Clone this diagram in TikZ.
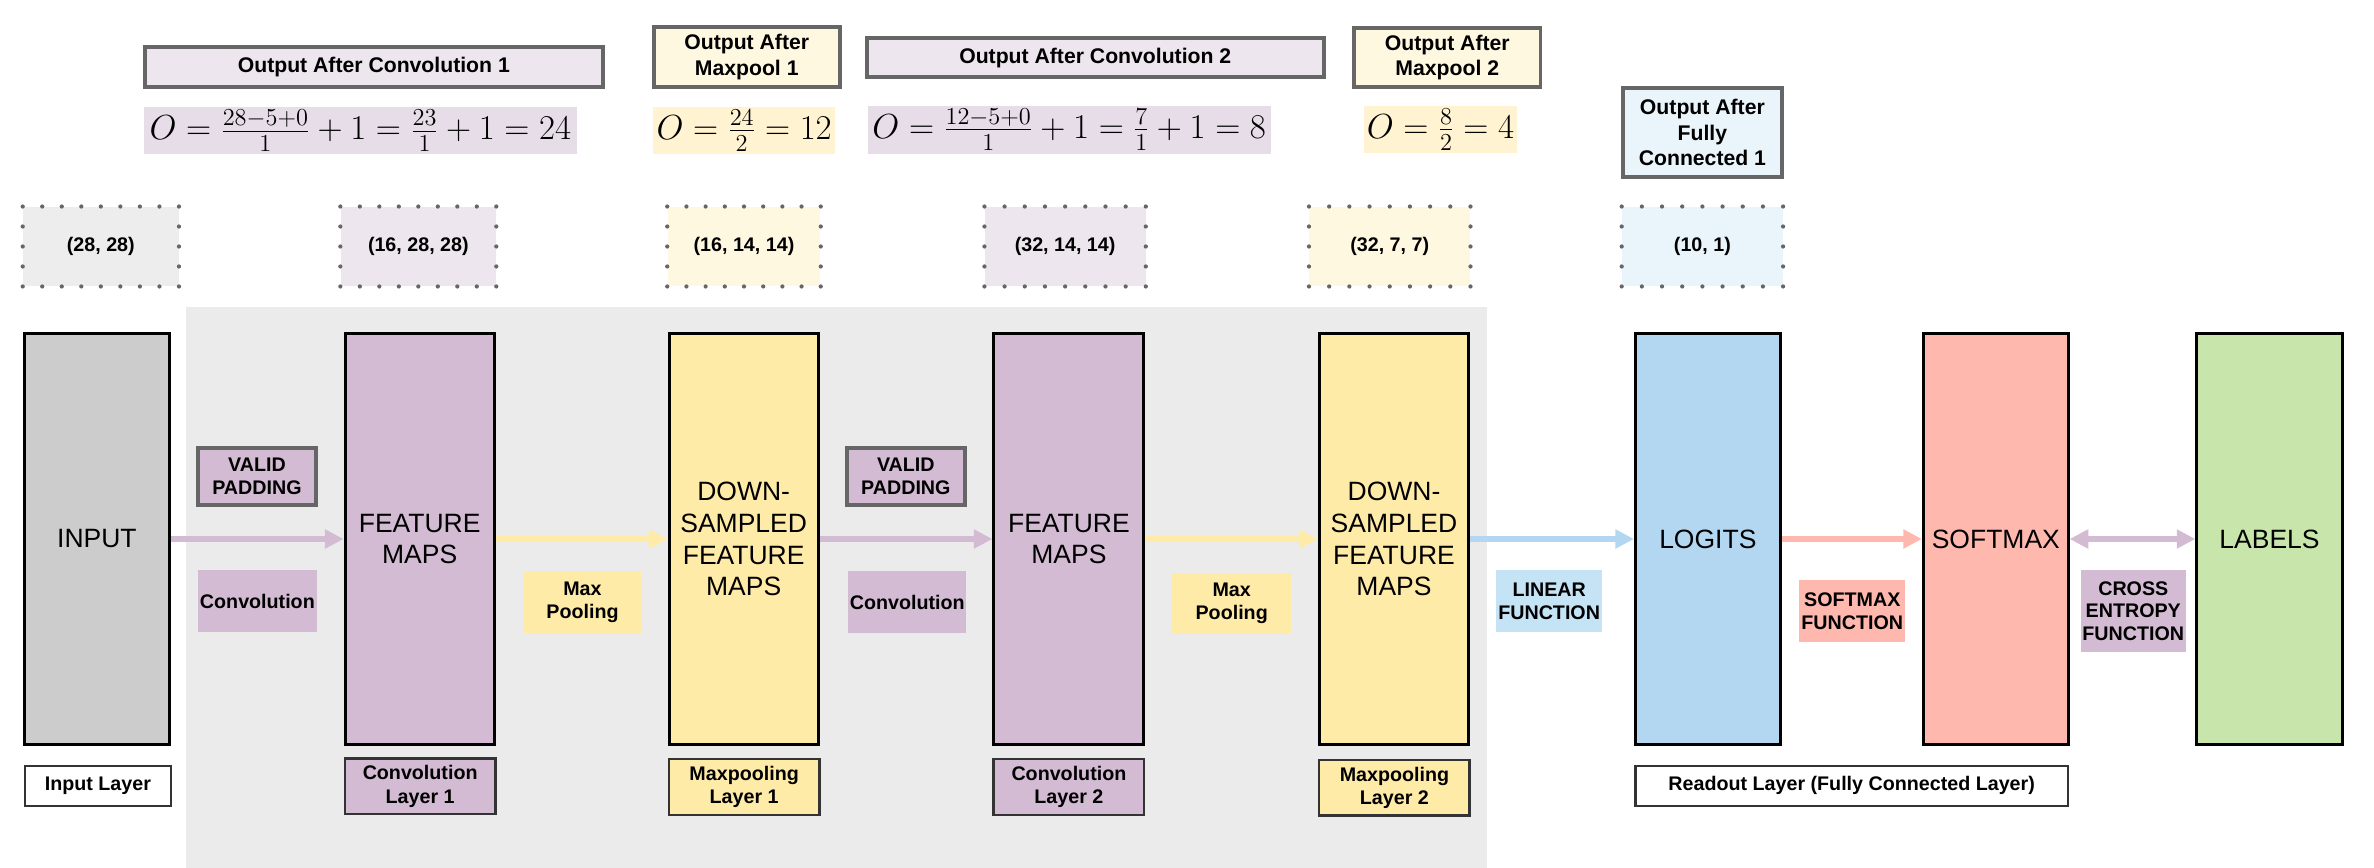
\RequirePackage{fix-cm}
\documentclass[tikz,border=0pt]{standalone}
\usepackage{fontspec}
\setmainfont{Liberation Sans}
\usetikzlibrary{arrows.meta,calc}
\definecolor{cgray}{HTML}{CCCCCC}
\definecolor{cpurple}{HTML}{D3BCD3}
\definecolor{cyellow}{HTML}{FFEBA8}
\definecolor{cblue}{HTML}{B3D7F0}
\definecolor{csalmon}{HTML}{FFB8AE}
\definecolor{cgreen}{HTML}{C8E6AB}
\definecolor{clinblue}{HTML}{C4E3F5}
\definecolor{cbg}{HTML}{EBEBEB}
\definecolor{cdk}{HTML}{333333}
\definecolor{cmid}{HTML}{666666}
\definecolor{hpurple}{HTML}{EEE6EE}
\definecolor{hyellow}{HTML}{FFF8E1}
\definecolor{hblue}{HTML}{EAF4FB}
\definecolor{hgray}{HTML}{EDEDED}
\definecolor{epurple}{HTML}{E6DDE8}
\definecolor{eyellow}{HTML}{FFF3D2}
\newcommand\dotframe[1]{%
  \foreach \i in {0,...,8}{%
    \fill[cmid] ($(#1.north west)!\i/8!(#1.north east)$) circle (1.4pt);
    \fill[cmid] ($(#1.south west)!\i/8!(#1.south east)$) circle (1.4pt);}
  \foreach \j in {1,...,3}{%
    \fill[cmid] ($(#1.north west)!\j/4!(#1.south west)$) circle (1.4pt);
    \fill[cmid] ($(#1.north east)!\j/4!(#1.south east)$) circle (1.4pt);}
}
\tikzset{
  mainbox/.style={draw=black, line width=2pt, minimum height=272pt, inner sep=0pt,
    font=\fontsize{17.5}{21}\selectfont, align=center},
  layerbox/.style={draw=cdk, line width=1.6pt, inner sep=0pt,
    font=\bfseries\fontsize{13}{15.5}\selectfont, align=center},
  hdrbox/.style={draw=cmid, line width=2.6pt, inner sep=0pt,
    font=\bfseries\fontsize{14}{17}\selectfont, align=center},
  eqbox/.style={inner sep=0pt, font=\fontsize{23}{27}\selectfont},
  dimbox/.style={inner sep=0pt, minimum height=52.4pt, font=\bfseries\fontsize{13}{15}\selectfont},
  oplabel/.style={inner sep=0pt, font=\bfseries\fontsize{13}{15}\selectfont, align=center},
  padbox/.style={oplabel, draw=cmid, line width=2.5pt},
  flow/.style={line width=4.6pt, -{Triangle[length=12.3pt,width=12pt]}},
  flowboth/.style={line width=4.6pt, {Triangle[length=12.3pt,width=12pt]}-{Triangle[length=12.3pt,width=12pt]}},
  panel/.style={fill=cbg, inner sep=0pt}
}
\begin{document}
\begin{tikzpicture}[x=1pt,y=-1pt]
\useasboundingbox (0,0) rectangle (1568,573);
% background panel
\node[panel, minimum width=859.2pt, minimum height=370pt] (bgpanel) at (552.4,388) {};

% headers
\node[hdrbox, fill=hpurple, minimum width=302.3pt, minimum height=26.4pt] (hc1) at (246.9,44.5) {Output After Convolution 1};
\node[hdrbox, fill=hyellow, minimum width=123pt, minimum height=39.7pt] (hm1) at (493.2,37.7) {Output After\\Maxpool 1};
\node[hdrbox, fill=hpurple, minimum width=301.7pt, minimum height=26.3pt] (hc2) at (723.4,38) {Output After Convolution 2};
\node[hdrbox, fill=hyellow, minimum width=123.1pt, minimum height=39.4pt] (hm2) at (955.9,38) {Output After\\Maxpool 2};
\node[hdrbox, fill=hblue, minimum width=105pt, minimum height=59.3pt] (hf1) at (1124.4,87.5) {Output After\\Fully\\Connected 1};

% formulas
\node[eqbox, fill=epurple, minimum width=286pt, minimum height=31pt] (f1) at (238,86.5) {$O=\frac{28-5+0}{1}+1=\frac{23}{1}+1=24$};
\node[eqbox, fill=eyellow, minimum width=120pt, minimum height=31.2pt] (fm1eq) at (491.5,86.1) {$O=\frac{24}{2}=12$};
\node[eqbox, fill=epurple, minimum width=266pt, minimum height=31.4pt] (f2) at (706.2,85.7) {$O=\frac{12-5+0}{1}+1=\frac{7}{1}+1=8$};
\node[eqbox, fill=eyellow, minimum width=101pt, minimum height=30.8pt] (fm2eq) at (951.4,85.4) {$O=\frac{8}{2}=4$};

% dimension boxes
\node[dimbox, fill=hgray, minimum width=102.8pt] (d1) at (66.6,162.8) {(28, 28)};
\node[dimbox, fill=hpurple, minimum width=102.6pt] (d2) at (276.3,162.8) {(16, 28, 28)};
\node[dimbox, fill=hyellow, minimum width=101pt] (d3) at (491.4,162.8) {(16, 14, 14)};
\node[dimbox, fill=hpurple, minimum width=106.2pt] (d4) at (703.5,162.8) {(32, 14, 14)};
\node[dimbox, fill=hyellow, minimum width=106.3pt] (d5) at (917.9,162.8) {(32, 7, 7)};
\node[dimbox, fill=hblue, minimum width=106.2pt] (d6) at (1124.4,162.8) {(10, 1)};
\dotframe{d1}\dotframe{d2}\dotframe{d3}\dotframe{d4}\dotframe{d5}\dotframe{d6}

% main boxes
\node[mainbox, fill=cgray, minimum width=96pt] (input) at (64,356) {INPUT};
\node[mainbox, fill=cpurple, minimum width=98.5pt] (fm1) at (277.2,356) {FEATURE\\MAPS};
\node[mainbox, fill=cyellow, minimum width=98.5pt] (ds1) at (491.2,356) {DOWN-\\SAMPLED\\FEATURE\\MAPS};
\node[mainbox, fill=cpurple, minimum width=99pt] (fm2) at (706,356) {FEATURE\\MAPS};
\node[mainbox, fill=cyellow, minimum width=98.5pt] (ds2) at (920.7,356) {DOWN-\\SAMPLED\\FEATURE\\MAPS};
\node[mainbox, fill=cblue, minimum width=95.5pt] (logits) at (1128,356) {LOGITS};
\node[mainbox, fill=csalmon, minimum width=95.5pt] (softmax) at (1318.2,356) {SOFTMAX};
\node[mainbox, fill=cgreen, minimum width=96pt] (labels) at (1499,356) {LABELS};

% layer labels
\node[layerbox, fill=white, minimum width=96.2pt, minimum height=26.4pt] (inlayer) at (64.7,519) {Input Layer};
\node[layerbox, fill=cpurple, minimum width=99.4pt, minimum height=36.7pt] (cl1) at (277.5,519.3) {Convolution\\Layer 1};
\node[layerbox, fill=cyellow, minimum width=99.4pt, minimum height=36.7pt] (ml1) at (491.5,519.8) {Maxpooling\\Layer 1};
\node[layerbox, fill=cpurple, minimum width=99.4pt, minimum height=36.7pt] (cl2) at (706,519.8) {Convolution\\Layer 2};
\node[layerbox, fill=cyellow, minimum width=99.4pt, minimum height=36.7pt] (ml2) at (921,520.4) {Maxpooling\\Layer 2};
\node[layerbox, fill=white, minimum width=285.7pt, minimum height=26.4pt] (readout) at (1223,519) {Readout Layer (Fully Connected Layer)};

% operation labels
\node[padbox, fill=cpurple, minimum width=78.1pt, minimum height=37.9pt] (vp1) at (169.7,314.8) {VALID\\PADDING};
\node[oplabel, fill=cpurple, minimum width=78.5pt, minimum height=40.4pt] (cv1) at (170,397) {Convolution};
\node[oplabel, fill=cyellow, minimum width=77.8pt, minimum height=40.6pt] (mp1) at (384.7,397.6) {Max\\Pooling};
\node[padbox, fill=cpurple, minimum width=78.1pt, minimum height=37.9pt] (vp2) at (598.3,314.8) {VALID\\PADDING};
\node[oplabel, fill=cpurple, minimum width=78.2pt, minimum height=40.6pt] (cv2) at (599.2,397.6) {Convolution};
\node[oplabel, fill=cyellow, minimum width=78.2pt, minimum height=40.4pt] (mp2) at (813.5,398.4) {Max\\Pooling};
\node[oplabel, fill=clinblue, minimum width=70.1pt, minimum height=40.4pt] (lin) at (1023.2,397) {LINEAR\\FUNCTION};
\node[oplabel, fill=csalmon, minimum width=70.1pt, minimum height=40.6pt] (smf) at (1223.4,403.6) {SOFTMAX\\FUNCTION};
\node[oplabel, fill=cpurple, minimum width=69.4pt, minimum height=53.6pt] (cef) at (1409,403.6) {CROSS\\ENTROPY\\FUNCTION};

% connectors
\draw[flow, cpurple] (input.east) -- (fm1.west);
\draw[flow, cyellow] (fm1.east) -- (ds1.west);
\draw[flow, cpurple] (ds1.east) -- (fm2.west);
\draw[flow, cyellow] (fm2.east) -- (ds2.west);
\draw[flow, cblue] (ds2.east) -- (logits.west);
\draw[flow, csalmon] (logits.east) -- (softmax.west);
\draw[flowboth, cpurple] (softmax.east) -- (labels.west);
\end{tikzpicture}
\end{document}
